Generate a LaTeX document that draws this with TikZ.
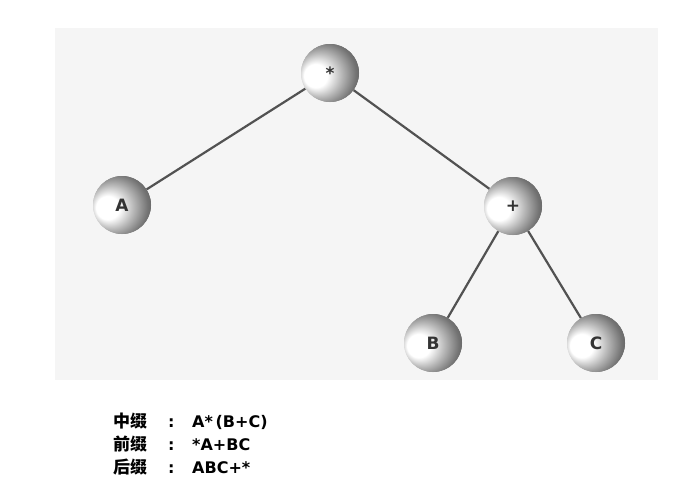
\documentclass[tikz,border=0pt]{standalone}
\usepackage{fontspec}
\newfontfamily\cjkfont{Noto Sans CJK SC}
\newfontfamily\latinfont{DejaVu Sans}
\usetikzlibrary{positioning}

% light from the left, dark rim on the right
\pgfdeclareradialshading{sphereshade}{\pgfpoint{-16bp}{-3bp}}{%
  color(0bp)=(white); color(10bp)=(white); color(19bp)=(black!28);
  color(28bp)=(black!55); color(36bp)=(black!68); color(44bp)=(black!68)}

\tikzset{
  ball/.style={circle, minimum size=58pt, inner sep=0pt, shading=sphereshade},
  balltext/.style={font=\latinfont\bfseries\fontsize{17}{17}\selectfont, text=black!80},
  edge/.style={draw=black!68, line width=2.2pt},
  rowtext/.style={anchor=base west, inner sep=0pt, font=\latinfont\bfseries\fontsize{16}{16}\selectfont}
}
\newcommand{\fixrow}[2]{\makebox[55pt][l]{\cjkfont\fontsize{17}{17}\selectfont #1}\makebox[24pt][l]{:}#2}

\begin{document}
\begin{tikzpicture}[x=1pt, y=-1pt]
  \useasboundingbox (0,0) rectangle (684,496);
  \fill[black!4] (55,28) rectangle (658,380);

  % Nodes
  \node[ball] (times) at (330,73) {};
  \node[ball] (a) at (122,205) {};
  \node[ball] (plus) at (513,206) {};
  \node[ball] (b) at (433,343) {};
  \node[ball] (c) at (596,343) {};

  % Edges
  \foreach \p/\q in {times/a, times/plus, plus/b, plus/c}
    \draw[edge] (\p) -- (\q);

  % Spheres again on top of the edges
  \foreach \n in {times, a, plus, b, c}
    \node[ball] at (\n) {};

  % Labels
  \node[balltext] (timeslbl) at (times) {*};
  \node[balltext] (albl) at (a) {A};
  \node[balltext] (pluslbl) at (plus) {+};
  \node[balltext] (blbl) at (b) {B};
  \node[balltext] (clbl) at (c) {C};

  % Notations
  \node[rowtext] (infix) at (113,427) {\fixrow{中缀}{A*\,(B+C)}};
  \node[rowtext] (prefix) at (113,450) {\fixrow{前缀}{*A+BC}};
  \node[rowtext] (postfix) at (113,473) {\fixrow{后缀}{ABC+*}};
\end{tikzpicture}
\end{document}
